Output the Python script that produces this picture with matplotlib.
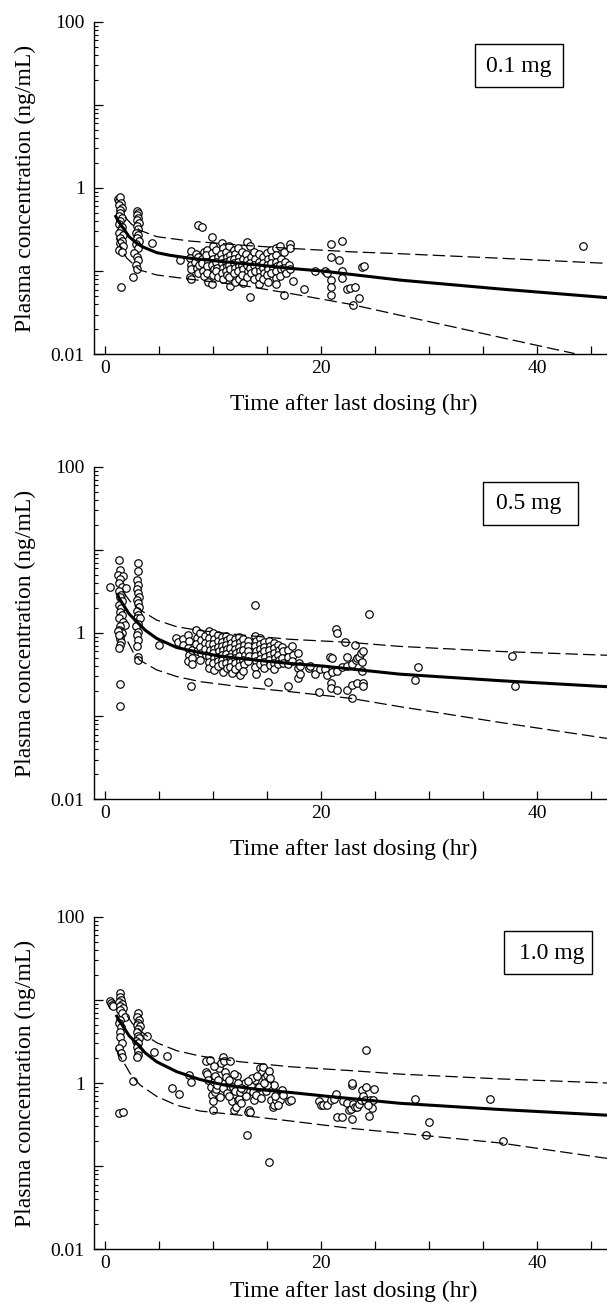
import matplotlib
matplotlib.use("Agg")
import matplotlib.pyplot as plt
from matplotlib.patches import Rectangle
from matplotlib.ticker import FixedLocator, FixedFormatter

plt.rcParams['font.family'] = ['Liberation Serif', 'DejaVu Serif']

# ---------------- data ----------------
dose_labels = ["0.1 mg", "0.5 mg", "1.0 mg"]
x_ticks = [0, 20, 40]
x_minor = [5, 10, 15, 25, 30, 35, 45]
y_ticks = [0.01, 0.1, 1, 10, 100]
y_ticklabels = ["0.01", "", "1", "", "100"]

# ---- 0.1 mg observed ----
t_01 = [1.2, 1.3, 1.4, 1.45, 1.3, 1.5, 1.35, 1.4, 1.25, 1.5, 1.4, 1.3, 1.55, 1.45, 1.3, 1.6, 1.4, 1.5, 1.35, 1.6, 1.3, 1.5, 1.45,
        2.9, 3.0, 2.95, 3.05, 2.9, 3.1, 2.95, 3.0, 2.85, 3.05, 2.9, 3.1, 2.8, 3.0, 2.7, 2.95, 3.0, 2.8, 2.9, 2.6,
        4.3, 6.9,
        7.9, 7.85, 7.9, 7.95, 7.85, 7.9,
        8.4, 8.3, 8.5, 8.6, 8.6, 8.7, 8.55, 9.0, 9.1, 9.0, 8.95, 9.05, 9.1,
        9.4, 9.35, 9.5, 9.4, 9.45, 9.5,
        9.9, 10.0, 9.85, 10.0, 9.9, 10.05, 9.95, 9.9,
        10.3, 10.4, 10.25, 10.35, 10.3, 10.4,
        10.8, 10.9, 10.75, 10.85, 10.8, 10.9, 10.8, 10.95,
        11.2, 11.25, 11.15, 11.3, 11.2, 11.25,
        11.5, 11.6, 11.55, 11.5, 11.6, 11.5, 11.55,
        11.9, 12.0, 11.95, 11.9, 12.0, 11.9, 12.0,
        12.3, 12.35, 12.3, 12.4, 12.3, 12.35,
        12.7, 12.75, 12.7, 12.8, 12.7, 12.75,
        13.1, 13.05, 13.15, 13.1, 13.2, 13.1,
        13.4, 13.5, 13.45, 13.4, 13.5, 13.4,
        13.8, 13.85, 13.8, 13.9, 13.8,
        14.2, 14.25, 14.2, 14.3, 14.2, 14.25,
        14.6, 14.65, 14.6, 14.7, 14.6,
        15.0, 15.05, 15.0, 15.1, 15.0, 15.05,
        15.4, 15.45, 15.4, 15.5, 15.4,
        15.8, 15.85, 15.8, 15.9, 15.8, 15.85, 15.8,
        16.2, 16.25, 16.2, 16.3, 16.2,
        16.6, 16.65, 16.6, 16.7, 16.6,
        17.0, 17.1, 17.1, 17.1, 17.4,
        18.4, 19.45, 20.4, 20.5, 20.9, 20.9, 20.9, 20.9, 20.9,
        21.7, 21.9, 21.9, 21.9, 22.4, 22.7, 23.1, 23.5, 22.95, 23.8, 24.0,
        44.25]
c_01 = [0.74, 0.70, 0.77, 0.66, 0.62, 0.58, 0.55, 0.50, 0.46, 0.43, 0.40, 0.37, 0.34, 0.31, 0.29, 0.27, 0.25, 0.23, 0.22, 0.20, 0.18, 0.17, 0.064,
        0.53, 0.50, 0.47, 0.44, 0.41, 0.38, 0.35, 0.32, 0.29, 0.27, 0.25, 0.23, 0.21, 0.19, 0.165, 0.15, 0.137, 0.12, 0.106, 0.086,
        0.22, 0.136,
        0.175, 0.143, 0.119, 0.105, 0.084, 0.080,
        0.16, 0.13, 0.11, 0.36, 0.15, 0.12, 0.095, 0.34, 0.17, 0.14, 0.125, 0.10, 0.088,
        0.18, 0.155, 0.13, 0.115, 0.095, 0.075,
        0.255, 0.20, 0.165, 0.14, 0.12, 0.105, 0.09, 0.071,
        0.18, 0.15, 0.13, 0.11, 0.10, 0.085,
        0.216, 0.19, 0.16, 0.14, 0.125, 0.11, 0.095, 0.08,
        0.17, 0.15, 0.13, 0.115, 0.10, 0.09,
        0.20, 0.155, 0.135, 0.12, 0.105, 0.085, 0.066,
        0.18, 0.16, 0.14, 0.125, 0.11, 0.095, 0.075,
        0.19, 0.15, 0.13, 0.115, 0.10, 0.08,
        0.17, 0.14, 0.12, 0.105, 0.09, 0.072,
        0.226, 0.16, 0.135, 0.12, 0.10, 0.085,
        0.20, 0.15, 0.125, 0.11, 0.095, 0.049,
        0.17, 0.14, 0.12, 0.10, 0.08,
        0.16, 0.13, 0.115, 0.10, 0.085, 0.07,
        0.15, 0.125, 0.11, 0.095, 0.08,
        0.165, 0.14, 0.12, 0.105, 0.09, 0.075,
        0.18, 0.15, 0.125, 0.11, 0.095,
        0.19, 0.155, 0.13, 0.115, 0.10, 0.082, 0.07,
        0.20, 0.14, 0.12, 0.105, 0.088,
        0.17, 0.13, 0.11, 0.095, 0.052,
        0.12, 0.21, 0.19, 0.105, 0.076,
        0.061, 0.101, 0.101, 0.095, 0.21, 0.147, 0.078, 0.065, 0.052,
        0.136, 0.233, 0.10, 0.082, 0.061, 0.062, 0.065, 0.048, 0.039, 0.113, 0.115,
        0.20]

# ---- 0.1 mg model curves ----
tm_01 = [0.9, 1.2, 1.67, 2.2, 2.91, 3.5, 4.76, 6.0, 7.85, 10.95, 14.04, 17.13, 20.2, 27.34, 36.6, 46.5]
med_01 = [0.473, 0.40, 0.327, 0.26, 0.216, 0.195, 0.167, 0.155, 0.143, 0.130, 0.119, 0.108, 0.100, 0.078, 0.061, 0.048]
tu_01 = [1.8, 2.4, 3.2, 4.76, 7.85, 12.5, 17.1, 22.7, 27.3, 36.6, 46.5]
hi_01 = [0.45, 0.37, 0.31, 0.26, 0.23, 0.206, 0.188, 0.171, 0.162, 0.143, 0.124]
tl_01 = [1.05, 1.5, 2.0, 3.2, 4.76, 7.85, 12.5, 17.1, 22.7, 27.3, 32.0, 36.6, 43.5]
lo_01 = [0.25, 0.18, 0.143, 0.103, 0.09, 0.080, 0.068, 0.054, 0.040, 0.0295, 0.0217, 0.016, 0.0102]

# ---- 0.5 mg observed ----
t_05 = [0.4,
        1.3, 1.35, 1.2, 1.65, 1.4, 1.3, 1.55, 1.9, 1.25, 1.45, 1.35, 1.5, 1.3, 1.45, 1.35, 1.5, 1.3, 1.6, 1.8, 1.4, 1.3, 1.5, 1.4, 1.35, 1.45, 1.4, 1.3, 1.2, 1.25, 1.4, 1.35,
        3.0, 3.0, 2.9, 3.05, 2.95, 3.0, 3.1, 2.9, 3.0, 3.1, 2.95, 3.05, 2.9, 3.2, 3.0, 2.85, 3.0, 2.95, 3.05, 2.9, 3.0, 3.05,
        5.0, 6.55, 6.7,
        7.2, 7.2,
        7.7, 7.75, 7.7, 7.8, 7.7, 7.9,
        8.0, 8.05, 8.0,
        8.4, 8.45, 8.4, 8.5,
        8.8, 8.85, 8.8, 8.9, 8.8,
        9.2, 9.25, 9.2, 9.3,
        9.6, 9.65, 9.6, 9.7, 9.6, 9.65, 9.6,
        10.0, 10.05, 10.0, 10.1, 10.0, 10.05, 10.0, 10.1,
        10.4, 10.45, 10.4, 10.5, 10.4, 10.45, 10.4,
        10.8, 10.85, 10.8, 10.9, 10.8, 10.85, 10.8, 10.9,
        11.2, 11.25, 11.2, 11.3, 11.2, 11.25, 11.2, 11.3,
        11.6, 11.65, 11.6, 11.7, 11.6, 11.65, 11.6, 11.7,
        12.0, 12.05, 12.0, 12.1, 12.0, 12.05, 12.0,
        12.4, 12.45, 12.4, 12.5, 12.4, 12.45, 12.4, 12.5,
        12.8, 12.85, 12.8, 12.9, 12.8, 12.85, 12.8,
        13.2, 13.25, 13.2, 13.3, 13.2,
        13.9, 13.9, 13.95, 13.9, 14.0, 13.9, 13.95, 13.9, 14.0,
        14.3, 14.35, 14.3, 14.4, 14.3, 14.35,
        14.7, 14.75, 14.7, 14.8, 14.7, 14.75,
        15.06,
        15.2, 15.25, 15.2, 15.3, 15.2, 15.25,
        15.6, 15.65, 15.6, 15.7, 15.6, 15.65,
        16.0, 16.05, 16.0, 16.1, 16.0,
        16.4, 16.45, 16.4, 16.5,
        16.9, 16.95, 16.9, 16.9,
        17.3, 17.35, 17.3,
        17.9, 17.95, 17.9, 17.9, 18.9,
        18.06, 18.06, 19.0, 19.45, 19.76, 19.9, 20.4, 20.5, 20.8, 20.9, 20.9, 21.0, 21.0, 21.37, 21.46, 21.5, 21.5, 21.9,
        22.2, 22.4, 22.4, 22.4, 22.9, 22.9, 22.9, 23.1, 23.2, 23.3, 23.3, 23.5, 23.7, 23.8, 23.8, 23.9, 23.9, 23.9, 24.4,
        28.67, 28.94, 37.7, 38.0]
c_05 = [3.6,
        7.5, 5.7, 5.0, 4.8, 4.4, 4.0, 3.6, 3.5, 3.2, 2.9, 2.7, 2.4, 2.2, 2.0, 1.8, 1.65, 1.5, 1.35, 1.25, 1.2, 1.1, 1.0, 0.92, 0.85, 0.78, 0.72, 0.66, 1.05, 0.95, 0.244, 0.132,
        6.9, 5.5, 4.3, 3.8, 3.4, 3.0, 2.7, 2.5, 2.3, 2.07, 1.85, 1.65, 1.5, 1.5, 1.3, 1.2, 1.04, 0.95, 0.82, 0.69, 0.52, 0.47,
        0.72, 0.88, 0.77,
        0.85, 0.72,
        0.95, 0.80, 0.66, 0.55, 0.46, 0.233,
        0.62, 0.50, 0.42,
        1.10, 0.88, 0.74, 0.60,
        1.00, 0.82, 0.68, 0.57, 0.48,
        0.92, 0.76, 0.64, 0.54,
        1.05, 0.88, 0.74, 0.63, 0.53, 0.45, 0.38,
        1.00, 0.85, 0.74, 0.65, 0.58, 0.50, 0.43, 0.36,
        0.95, 0.80, 0.68, 0.60, 0.52, 0.46, 0.40,
        0.90, 0.78, 0.70, 0.62, 0.55, 0.48, 0.42, 0.34,
        0.92, 0.82, 0.72, 0.64, 0.56, 0.50, 0.44, 0.38,
        0.88, 0.76, 0.66, 0.58, 0.51, 0.45, 0.39, 0.33,
        0.85, 0.74, 0.65, 0.57, 0.50, 0.43, 0.37,
        0.90, 0.78, 0.68, 0.60, 0.53, 0.46, 0.40, 0.31,
        0.84, 0.72, 0.63, 0.55, 0.48, 0.42, 0.35,
        0.80, 0.70, 0.61, 0.53, 0.46,
        2.15, 0.92, 0.80, 0.70, 0.61, 0.53, 0.46, 0.39, 0.32,
        0.86, 0.74, 0.64, 0.56, 0.49, 0.42,
        0.78, 0.68, 0.60, 0.52, 0.45, 0.38,
        0.255,
        0.80, 0.70, 0.62, 0.55, 0.48, 0.41,
        0.76, 0.66, 0.58, 0.50, 0.43, 0.37,
        0.72, 0.63, 0.55, 0.48, 0.42,
        0.68, 0.60, 0.50, 0.44,
        0.62, 0.52, 0.42, 0.233,
        0.70, 0.55, 0.46,
        0.57, 0.44, 0.38, 0.285, 0.38,
        0.40, 0.32, 0.40, 0.32, 0.193, 0.37, 0.37, 0.31, 0.51, 0.248, 0.216, 0.50, 0.34, 1.12, 1.01, 0.35, 0.206, 0.39,
        0.77, 0.51, 0.40, 0.206, 0.42, 0.167, 0.235, 0.72, 0.47, 0.50, 0.248, 0.52, 0.57, 0.45, 0.35, 0.60, 0.25, 0.23, 1.68,
        0.275, 0.386, 0.535, 0.233]

# ---- 0.5 mg model curves ----
tm_05 = [1.06, 1.3, 1.67, 2.2, 2.91, 3.7, 4.76, 6.6, 8.78, 10.95, 14.04, 17.13, 20.2, 27.3, 36.6, 46.5]
med_05 = [3.0, 2.6, 2.17, 1.7, 1.37, 1.08, 0.86, 0.67, 0.58, 0.52, 0.47, 0.43, 0.40, 0.32, 0.267, 0.226]
tu_05 = [1.67, 2.3, 3.2, 4.76, 6.6, 8.78, 12.5, 17.1, 22.7, 27.3, 36.6, 46.5]
hi_05 = [3.1, 2.4, 1.9, 1.43, 1.19, 1.07, 0.95, 0.84, 0.77, 0.69, 0.60, 0.54]
tl_05 = [2.07, 2.6, 3.2, 4.76, 6.6, 8.78, 12.5, 17.1, 22.7, 27.3, 36.6, 46.5]
lo_05 = [0.79, 0.58, 0.47, 0.36, 0.30, 0.26, 0.226, 0.197, 0.164, 0.13, 0.084, 0.054]

# ---- 1.0 mg observed ----
t_10 = [0.45, 0.55, 0.65, 0.75,
        1.4, 1.35, 1.45, 1.3, 1.5, 1.4, 1.6, 1.35, 1.5, 1.8, 1.4, 1.3, 1.45, 1.4, 1.35, 1.5, 1.3, 1.45, 1.5, 1.3, 1.6,
        3.0, 2.9, 3.1, 3.0, 2.95, 3.2, 3.05, 2.9, 3.0, 3.1, 2.85, 3.0, 2.95, 3.05, 3.0, 2.9, 2.6,
        3.83, 4.5, 5.7, 6.2, 6.85, 7.8, 7.9,
        9.3, 9.35, 9.4, 9.5, 9.7, 9.8, 9.9, 9.95, 10.0, 10.1, 10.15, 10.2, 10.3, 10.35, 10.5, 10.6,
        10.75, 10.9, 11.0, 11.0, 11.1, 11.2, 11.3, 11.4, 11.5, 11.6, 11.7, 11.8, 11.9,
        12.0, 12.1, 12.2, 12.3, 12.4, 12.5, 12.6, 12.7, 12.9, 13.0, 13.1, 13.2, 13.3, 13.4, 13.5,
        13.7, 13.75, 13.9, 14.0, 14.2, 14.3, 14.5, 14.6, 14.8, 14.9, 15.0, 15.1, 15.2, 15.2, 15.3, 15.4,
        15.5, 15.6, 15.6, 15.8, 15.9, 16.1, 16.2, 16.4, 17.0, 17.2,
        10.4, 10.9, 11.3, 11.9, 12.3, 12.8, 13.6, 14.1, 14.4, 15.0, 15.7, 16.0, 10.1, 11.5, 12.6, 13.2, 14.7, 15.3, 16.5,
        19.85, 20.0, 20.2, 20.55, 20.9, 21.2, 21.4, 21.5, 21.9, 22.0, 22.4, 22.6, 22.8, 22.9, 22.95, 23.1, 23.3,
        22.9, 22.9, 23.5, 23.7, 23.8, 23.9, 24.1, 24.2, 24.2, 24.4, 24.5, 24.7, 24.8, 24.9, 24.3,
        28.7, 29.7, 30.0, 35.7, 36.9]
c_10 = [9.8, 9.1, 8.7, 8.4,
        12.2, 10.8, 10.0, 9.5, 9.0, 8.5, 8.0, 7.6, 6.9, 6.2, 5.7, 5.2, 4.75, 4.1, 3.6, 3.0, 2.6, 2.27, 2.07, 0.44, 0.45,
        7.0, 6.3, 5.7, 5.3, 5.0, 4.9, 4.5, 4.1, 3.7, 3.44, 3.2, 3.0, 2.7, 2.4, 2.2, 2.03, 1.07,
        3.67, 2.34, 2.13, 0.86, 0.745, 1.25, 1.04,
        1.85, 1.37, 1.3, 1.09, 1.89, 0.90, 0.72, 0.60, 0.48, 1.03, 0.78, 1.2, 0.85, 0.95, 1.5, 0.68,
        1.72, 2.07, 1.85, 1.0, 1.37, 1.19, 0.92, 0.83, 1.09, 1.85, 0.60, 0.90, 0.47,
        0.80, 0.51, 1.2, 0.62, 0.65, 0.78, 0.58, 0.95, 0.99, 0.70, 0.235, 0.45, 0.47, 0.45, 0.95,
        0.78, 0.62, 1.1, 0.72, 0.90, 1.5, 1.37, 1.55, 1.19, 0.80, 1.25, 1.04, 1.4, 0.113, 0.90, 0.62,
        0.52, 0.55, 0.95, 0.62, 0.75, 0.68, 0.62, 0.82, 0.60, 0.63,
        1.1, 0.88, 0.75, 1.3, 1.0, 0.85, 1.15, 1.2, 0.66, 0.95, 0.70, 0.55, 1.6, 0.70, 0.88, 1.05, 1.0, 1.15, 0.72,
        0.61, 0.545, 0.545, 0.545, 0.62, 0.65, 0.73, 0.39, 0.39, 0.60, 0.58, 0.48, 0.49, 0.37, 0.56, 0.52, 0.52,
        0.95, 1.0, 0.56, 0.62, 0.82, 0.70, 0.62, 0.89, 2.5, 0.40, 0.62, 0.50, 0.62, 0.85, 0.55,
        0.65, 0.24, 0.34, 0.65, 0.20]

# ---- 1.0 mg model curves ----
tm_10 = [0.99, 1.3, 1.67, 2.2, 2.91, 3.7, 4.76, 6.6, 8.78, 10.95, 14.04, 17.13, 20.2, 27.3, 36.6, 46.5]
med_10 = [6.6, 5.6, 4.75, 3.7, 3.0, 2.3, 1.8, 1.37, 1.1, 0.95, 0.84, 0.77, 0.70, 0.57, 0.48, 0.41]
tu_10 = [2.0, 2.5, 3.2, 4.0, 4.76, 6.6, 8.78, 12.5, 17.1, 22.7, 27.3, 36.6, 46.5]
hi_10 = [6.5, 5.2, 4.3, 3.55, 3.05, 2.45, 2.11, 1.8, 1.57, 1.41, 1.28, 1.12, 1.0]
tl_10 = [0.99, 1.3, 1.67, 2.3, 3.2, 4.76, 6.6, 8.78, 12.5, 17.1, 22.7, 27.3, 36.6, 46.5]
lo_10 = [2.6, 2.15, 1.8, 1.3, 0.95, 0.69, 0.54, 0.46, 0.41, 0.35, 0.285, 0.25, 0.19, 0.124]

panels = [
    (t_01, c_01, tm_01, med_01, tu_01, hi_01, tl_01, lo_01),
    (t_05, c_05, tm_05, med_05, tu_05, hi_05, tl_05, lo_05),
    (t_10, c_10, tm_10, med_10, tu_10, hi_10, tl_10, lo_10),
]

# ---------------- layout ----------------
W, H = 607, 1307
fig = plt.figure(figsize=(W / 100, H / 100), dpi=100)
left = 93.7 / W
width = 1 - left
tops = [21.7, 466.7, 916.7]
ax_h = 332.6
xlabel_y = [-0.118, -0.118, -0.094]
boxes = [  # x0, y0, w, h (axes fraction), text x, text y
    (0.7436, 0.8028, 0.1714, 0.1302, 0.829, 0.866),
    (0.7580, 0.8247, 0.1847, 0.1302, 0.848, 0.888),
    (0.8003, 0.8268, 0.1710, 0.1311, 0.892, 0.890),
]

for i, (t, c, tm, med, tu, hi, tl, lo) in enumerate(panels):
    bottom = 1 - (tops[i] + ax_h) / H
    ax = fig.add_axes([left, bottom, width, ax_h / H])
    ax.set_yscale('log')
    ax.set_xlim(-1.08, 46.5)
    ax.set_ylim(0.01, 100)

    ax.plot(t, c, linestyle='none', marker='o', ms=5.4, mfc='white', mec='black', mew=0.85, zorder=2, clip_on=False)
    ax.plot(tm, med, color='black', lw=2.2, zorder=3, solid_capstyle='butt')
    ax.plot(tu, hi, color='black', lw=0.9, dashes=(10, 4), zorder=3)
    ax.plot(tl, lo, color='black', lw=0.9, dashes=(10, 4), zorder=3)

    for s in ['top', 'right']:
        ax.spines[s].set_visible(False)
    for s in ['left', 'bottom']:
        ax.spines[s].set_linewidth(1.0)

    ax.xaxis.set_major_locator(FixedLocator(x_ticks))
    ax.xaxis.set_minor_locator(FixedLocator(x_minor))
    ax.yaxis.set_major_locator(FixedLocator(y_ticks))
    ax.yaxis.set_major_formatter(FixedFormatter(y_ticklabels))
    ax.yaxis.set_minor_locator(matplotlib.ticker.LogLocator(base=10, subs=range(2, 10), numticks=20))
    ax.yaxis.set_minor_formatter(matplotlib.ticker.NullFormatter())

    ax.tick_params(axis='x', which='both', direction='in', length=6, width=0.9, labelsize=14, pad=4)
    ax.tick_params(axis='y', which='major', direction='in', length=6.5, width=0.9, labelsize=14, pad=6.5)
    ax.tick_params(axis='y', which='minor', direction='in', length=3, width=0.8)

    ax.set_xlabel('Time after last dosing (hr)', fontsize=17)
    ax.xaxis.set_label_coords(0.507, xlabel_y[i])
    ax.set_ylabel('Plasma concentration (ng/mL)', fontsize=17)
    ax.yaxis.set_label_coords(-0.112, 0.5)

    x0, y0, bw, bh, tx, ty = boxes[i]
    ax.add_patch(Rectangle((x0, y0), bw, bh, transform=ax.transAxes, fill=False,
                           edgecolor='black', lw=1.0, zorder=4, clip_on=False))
    ax.text(tx, ty, dose_labels[i], transform=ax.transAxes, ha='center', va='center', fontsize=17, zorder=5)

fig.savefig('out.png', dpi=100)
